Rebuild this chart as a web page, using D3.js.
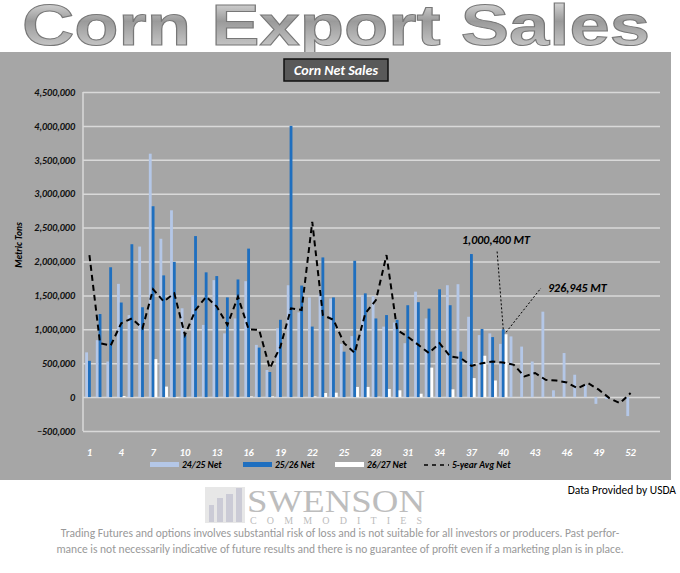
<!DOCTYPE html>
<html>
<head>
<meta charset="utf-8">
<script src="https://cdn.jsdelivr.net/npm/d3@7"></script>
<style>
body { margin: 0; background: #fff; }
svg text { font-family: Calibri, "Liberation Sans", Carlito, sans-serif; }
</style>
</head>
<body>
<div id="graph"></div>
<script>
// weekly net sales, metric tons (week 1..52)
var net2425 = [660000, 840000, 525000, 1670000, 1210000, 2220000, 3590000, 2335000, 2755000, 1310000,
	1500000, 1065000, 1725000, 940000, 1160000, 1710000, 770000, 400000, 1015000, 1650000,
	1250000, 1470000, 1530000, 1455000, 785000, 900000, 1500000, 1490000, 1040000, 1100000,
	795000, 1555000, 1160000, 990000, 1650000, 1665000, 1185000, 915000, 940000, 785000,
	895000, 745000, 525000, 1260000, 100000, 650000, 330000, 180000, -100000, -30000, 0, -280000];
var net2526 = [535000, 1225000, 1915000, 1395000, 2255000, 1325000, 2815000, 1795000, 1995000, 915000,
	2375000, 1840000, 1785000, 1470000, 1735000, 2190000, 730000, 370000, 1140000, 4000000,
	1645000, 1040000, 2060000, 1470000, 670000, 2010000, 1530000, 1160000, 1210000, 1140000,
	1355000, 1400000, 1305000, 1590000, 1355000, 670000, 2110000, 1005000, 885000, 1000400];
var net2627 = [0, 0, 0, 15000, 0, 0, 560000, 155000, -10000, 0,
	0, 0, 0, 0, 0, 10000, 0, 10000, 0, 0,
	0, 10000, 60000, 65000, 0, 150000, 150000, 5000, 120000, 100000,
	0, 50000, 435000, 0, 115000, 0, 280000, 610000, 245000, 926945];
var avg5 = [2095000, 795000, 760000, 1090000, 1160000, 1015000, 1590000, 1410000, 1530000, 915000,
	1285000, 1480000, 1335000, 1065000, 1480000, 1000000, 990000, 425000, 745000, 1310000,
	1285000, 2585000, 1210000, 1140000, 795000, 650000, 1235000, 1430000, 2095000, 990000,
	890000, 770000, 650000, 795000, 600000, 575000, 460000, 500000, 525000, 510000,
	475000, 305000, 355000, 255000, 245000, 215000, 130000, 205000, 110000, -15000, -90000, 60000];

var weeks = d3.range(1, 53);
var svg = d3.select("#graph").append("svg").attr("width", 680).attr("height", 573);

// big title with metallic gradient
var defs = svg.append("defs");
var grad = defs.append("linearGradient").attr("id", "metal").attr("x1", 0).attr("y1", 0).attr("x2", 0).attr("y2", 1);
grad.append("stop").attr("offset", "0%").attr("stop-color", "#f4f4f4");
grad.append("stop").attr("offset", "45%").attr("stop-color", "#9a9a9a");
grad.append("stop").attr("offset", "100%").attr("stop-color", "#d8d8d8");
svg.append("text").attr("x", 22).attr("y", 45)
	.attr("textLength", 628).attr("lengthAdjust", "spacingAndGlyphs")
	.style("font-family", "'Liberation Sans', Arial, sans-serif").style("font-weight", "900")
	.style("font-size", "58px").attr("fill", "url(#metal)").attr("stroke", "#777").attr("stroke-width", 1)
	.text("Corn Export Sales");

// panel
svg.append("rect").attr("x", 0).attr("y", 52).attr("width", 671).attr("height", 428).attr("fill", "#a6a6a6");
svg.append("rect").attr("x", 284).attr("y", 59).attr("width", 104).attr("height", 22)
	.attr("fill", "#595959").attr("stroke", "#111").attr("stroke-width", 1.5);
svg.append("text").attr("x", 336).attr("y", 75).attr("text-anchor", "middle").attr("fill", "#fff")
	.style("font-size", "14px").style("font-weight", "bold").style("font-style", "italic").text("Corn Net Sales");

var x = d3.scaleBand().domain(weeks).range([82, 638]).paddingInner(0.2).paddingOuter(0.3);
var y = d3.scaleLinear().domain([-500000, 4500000]).range([431, 92]);
var g = svg.append("g");

g.append("g").attr("transform", "translate(83,0)")
	.call(d3.axisLeft(y).tickValues(d3.range(-500000, 4500001, 500000)).tickSize(-577).tickFormat(d3.format(",")))
	.call(function(a) {
		a.select(".domain").remove();
		a.selectAll("line").attr("stroke", "#d9d9d9").attr("stroke-width", 1.5);
		a.selectAll("text").attr("fill", "#111").attr("x", -8).style("font-size", "10px")
			.style("font-weight", "bold").style("font-style", "italic");
	});
g.append("line").attr("x1", 83).attr("x2", 83).attr("y1", 92).attr("y2", 431).attr("stroke", "#d9d9d9").attr("stroke-width", 1.5);

g.append("g").attr("transform", "translate(0,446)")
	.call(d3.axisBottom(x).tickValues(weeks.filter(function(w){ return (w - 1) % 3 == 0; })).tickSize(0))
	.call(function(a) {
		a.select(".domain").remove();
		a.selectAll("text").attr("fill", "#fff").style("font-size", "10.5px")
			.style("font-weight", "bold").style("font-style", "italic");
	});

svg.append("text").attr("transform", "translate(22,245) rotate(-90)").attr("text-anchor", "middle")
	.style("font-size", "9.5px").style("font-weight", "bold").style("font-style", "italic").text("Metric Tons");

var bw = x.bandwidth() / 3;
function bars(data, off, color) {
	g.append("g").selectAll("rect").data(data).enter().append("rect")
		.attr("x", function(d, i) { return x(i + 1) + off * bw; })
		.attr("width", bw)
		.attr("y", function(d) { return y(Math.max(0, d)); })
		.attr("height", function(d) { return Math.abs(y(d) - y(0)); })
		.attr("fill", color);
}
bars(net2425, 0, "#b4c7e7");
bars(net2526, 1, "#1f6fbf");
bars(net2627, 2, "#ffffff");

var line = d3.line().x(function(d, i) { return x(i + 1) + x.bandwidth() / 2; }).y(function(d) { return y(d); });
g.append("path").datum(avg5).attr("d", line).attr("fill", "none").attr("stroke", "#000")
	.attr("stroke-width", 2).attr("stroke-dasharray", "6,4");

// annotations
var x40 = x(40);
g.append("line").attr("x1", x40 + bw * 1.5).attr("y1", y(1000400)).attr("x2", 497).attr("y2", 250)
	.attr("stroke", "#000").attr("stroke-dasharray", "2,2");
g.append("line").attr("x1", x40 + bw * 2.5).attr("y1", y(926945) - 2).attr("x2", 541).attr("y2", 288)
	.attr("stroke", "#000").attr("stroke-dasharray", "2,2");
svg.append("text").attr("x", 462).attr("y", 244).style("font-size", "12px").style("font-weight", "bold")
	.style("font-style", "italic").text("1,000,400 MT");
svg.append("text").attr("x", 548).attr("y", 292).style("font-size", "12px").style("font-weight", "bold")
	.style("font-style", "italic").text("926,945 MT");

// legend
var legend = [
	{label: "24/25 Net", color: "#b4c7e7", x: 150},
	{label: "25/26 Net", color: "#1f6fbf", x: 243},
	{label: "26/27 Net", color: "#ffffff", x: 335}
];
legend.forEach(function(l) {
	svg.append("rect").attr("x", l.x).attr("y", 462).attr("width", 29).attr("height", 5).attr("fill", l.color);
	svg.append("text").attr("x", l.x + 32).attr("y", 468).style("font-size", "9.5px").style("font-weight", "bold")
		.style("font-style", "italic").text(l.label);
});
svg.append("line").attr("x1", 424).attr("x2", 449).attr("y1", 465).attr("y2", 465).attr("stroke", "#000")
	.attr("stroke-width", 1.5).attr("stroke-dasharray", "4,4");
svg.append("text").attr("x", 452).attr("y", 468).style("font-size", "9.5px").style("font-weight", "bold")
	.style("font-style", "italic").text("5-year Avg Net");

// footer
svg.append("text").attr("x", 676).attr("y", 494).attr("text-anchor", "end").style("font-size", "11.5px").text("Data Provided by USDA");
var logo = svg.append("g").attr("opacity", 0.6);
logo.append("rect").attr("x", 205).attr("y", 487).attr("width", 40).attr("height", 36).attr("fill", "#d8d8d8");
[[209, 505, 5, "#aab"], [217, 498, 6, "#aab"], [226, 494, 7, "#aab"], [236, 488, 6, "#aab"]].forEach(function(r) {
	logo.append("rect").attr("x", r[0]).attr("y", r[1]).attr("width", r[2]).attr("height", 522 - r[1]).attr("fill", r[3]);
});
svg.append("text").attr("x", 247).attr("y", 512).attr("textLength", 178).attr("lengthAdjust", "spacingAndGlyphs")
	.style("font-family", "'Liberation Serif', serif").style("font-size", "32px")
	.attr("fill", "#bdbdbd").text("SWENSON");
svg.append("text").attr("x", 250).attr("y", 524).attr("textLength", 172)
	.style("font-family", "'Liberation Serif', serif").style("font-size", "10px")
	.attr("fill", "#bdbdbd").text("COMMODITIES");
svg.append("text").attr("x", 340).attr("y", 537).attr("text-anchor", "middle").attr("fill", "#999").style("font-size", "11.5px")
	.text("Trading Futures and options involves substantial risk of loss and is not suitable for all investors or producers. Past perfor-");
svg.append("text").attr("x", 340).attr("y", 553).attr("text-anchor", "middle").attr("fill", "#999").style("font-size", "11.5px")
	.text("mance is not necessarily indicative of future results and there is no guarantee of profit even if a marketing plan is in place.");
</script>
</body>
</html>
